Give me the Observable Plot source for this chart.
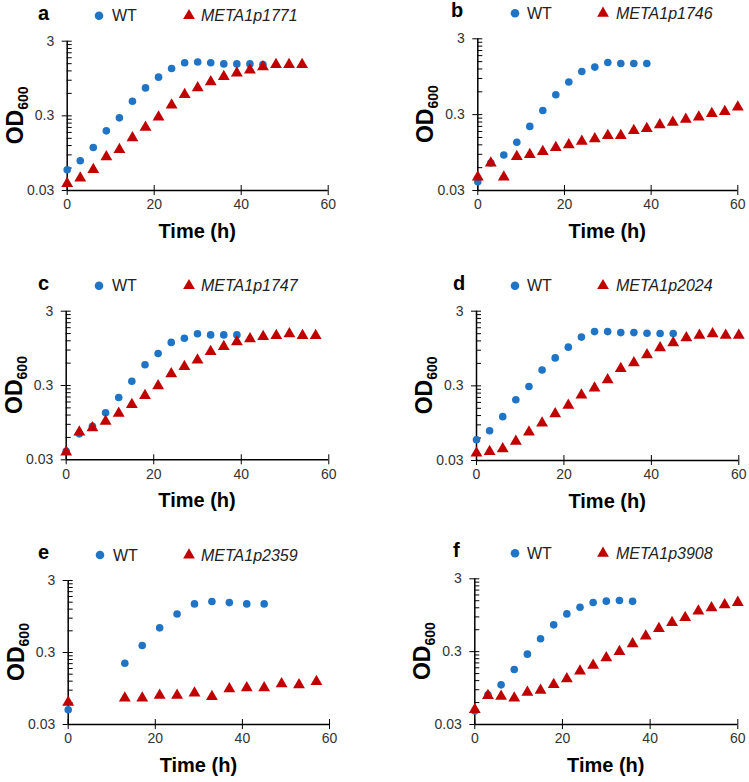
<!DOCTYPE html>
<html><head><meta charset="utf-8">
<script src="https://cdn.jsdelivr.net/npm/d3@7"></script>
<script src="https://cdn.jsdelivr.net/npm/@observablehq/plot@0.6"></script>
<style>
body{margin:0;background:#fff;}
#root{position:relative;width:749px;height:782px;overflow:hidden;}
.panel{position:absolute;}
</style></head><body><div id="root"></div>
<script>
// ---------- data ----------
const letters = ["a","b","c","d","e","f"];
const genes = ["META1p1771","META1p1746","META1p1747","META1p2024","META1p2359","META1p3908"];
const xTicks = [0, 20, 40, 60];
const yTicks = [0.03, 0.3, 3];
const yMinorTicks = [0.06,0.09,0.12,0.15,0.18,0.21,0.24,0.27,0.3,0.6,0.9,1.2,1.5,1.8,2.1,2.4,2.7,3];

const aWtT  = [0,3,6,9,12,15,18,21,24,27,30,33,36,39,42,45];
const aWtOD = [0.057,0.075,0.113,0.189,0.282,0.471,0.71,0.99,1.29,1.54,1.58,1.54,1.49,1.49,1.49,1.46];
const aMutT  = [0,3,6,9,12,15,18,21,24,27,30,33,36,39,42,45,48,51,54];
const aMutOD = [0.037,0.044,0.057,0.085,0.106,0.152,0.21,0.288,0.417,0.58,0.71,0.855,1.01,1.12,1.23,1.36,1.46,1.46,1.46];

const bWtT  = [0,3,6,9,12,15,18,21,24,27,30,33,36,39];
const bWtOD = [0.039,0.069,0.088,0.13,0.21,0.34,0.55,0.81,1.11,1.27,1.46,1.42,1.42,1.42];
const bMutT  = [0,3,6,9,12,15,18,21,24,27,30,33,36,39,42,45,48,51,54,57,60];
const bMutOD = [0.045,0.069,0.045,0.084,0.089,0.098,0.11,0.12,0.133,0.144,0.159,0.159,0.185,0.197,0.22,0.237,0.26,0.278,0.31,0.33,0.377];

const cWtT  = [0,3,6,9,12,15,18,21,24,27,30,33,36,39];
const cWtOD = [0.039,0.067,0.085,0.129,0.207,0.343,0.57,0.81,1.14,1.30,1.49,1.44,1.44,1.44];
const cMutT  = [0,3,6,9,12,15,18,21,24,27,30,33,36,39,42,45,48,51,54,57];
const cMutOD = [0.038,0.071,0.081,0.099,0.127,0.166,0.22,0.297,0.43,0.54,0.66,0.86,1.0,1.16,1.27,1.37,1.41,1.49,1.41,1.41];

const dWtT  = [0,3,6,9,12,15,18,21,24,27,30,33,36,39,42,45];
const dWtOD = [0.057,0.075,0.116,0.195,0.294,0.49,0.71,0.99,1.35,1.60,1.60,1.55,1.55,1.52,1.51,1.51];
const dMutT  = [0,3,6,9,12,15,18,21,24,27,30,33,36,39,42,45,48,51,54,57,60];
const dMutOD = [0.0376,0.0396,0.043,0.054,0.072,0.095,0.127,0.164,0.225,0.28,0.36,0.51,0.61,0.78,0.97,1.13,1.32,1.42,1.49,1.42,1.42];

const eWtT  = [0,13,17,21,25,29,33,37,41,45];
const eWtOD = [0.048,0.213,0.375,0.66,1.03,1.42,1.53,1.48,1.42,1.42];
const eMutT  = [0,13,17,21,25,29,33,37,41,45,49,53,57];
const eMutOD = [0.061,0.070,0.070,0.076,0.076,0.082,0.073,0.094,0.097,0.097,0.11,0.107,0.118];

const fWtT  = [0,3,6,9,12,15,18,21,24,27,30,33,36];
const fWtOD = [0.046,0.077,0.105,0.171,0.277,0.45,0.70,0.99,1.22,1.42,1.48,1.51,1.47];
const fMutT  = [0,3,6,9,12,15,18,21,24,27,30,33,36,39,42,45,48,51,54,57,60];
const fMutOD = [0.048,0.075,0.073,0.069,0.083,0.088,0.106,0.127,0.162,0.194,0.247,0.30,0.385,0.49,0.62,0.75,0.88,1.08,1.2,1.32,1.42];

const wtTimes = [aWtT,bWtT,cWtT,dWtT,eWtT,fWtT];
const wtODs   = [aWtOD,bWtOD,cWtOD,dWtOD,eWtOD,fWtOD];
const mutTimes = [aMutT,bMutT,cMutT,dMutT,eMutT,fMutT];
const mutODs   = [aMutOD,bMutOD,cMutOD,dMutOD,eMutOD,fMutOD];

// ---------- layout ----------
const layout = [
  {left:0,   top:0,   width:375, height:260, ml:66.7,  mr:47.3, mt:40.7, mb:70,   lg:{letter:38, dot:99,  wt:112, tri:189, gene:201}},
  {left:375, top:0,   width:374, height:260, ml:102.3, mr:11.7, mt:38.3, mb:70,   lg:{letter:76, dot:140, wt:152, tri:228, gene:241}},
  {left:0,   top:260, width:375, height:260, ml:65.7,  mr:46.7, mt:50.7, mb:60.7, lg:{letter:38, dot:99,  wt:112, tri:189, gene:201}},
  {left:375, top:260, width:374, height:260, ml:101,   mr:10.7, mt:50.7, mb:60,   lg:{letter:78, dot:140, wt:152, tri:228, gene:241}},
  {left:0,   top:520, width:375, height:262, ml:67.7,  mr:46,   mt:60,   mb:58,   lg:{letter:38, dot:100, wt:113, tri:189, gene:201}},
  {left:375, top:520, width:374, height:262, ml:99.3,  mr:11.7, mt:58.3, mb:58,   lg:{letter:78, dot:140, wt:152, tri:228, gene:241}}
];
const BLUE = "#1f74c6", RED = "#c00000", FONT = "'Liberation Sans', Arial, sans-serif";

const root = document.getElementById("root");
letters.forEach((letter, i) => {
  const L = layout[i];
  const wt = wtTimes[i].map((t, j) => ({t, od: wtODs[i][j]}));
  const mut = mutTimes[i].map((t, j) => ({t, od: mutODs[i][j]}));
  const plotW = L.width - L.ml - L.mr, plotH = L.height - L.mt - L.mb;
  const svg = Plot.plot({
    width: L.width, height: L.height,
    marginLeft: L.ml, marginRight: L.mr, marginTop: L.mt, marginBottom: L.mb,
    style: {fontFamily: FONT, fontSize: "14px", color: "#000", background: "transparent", overflow: "visible"},
    x: {domain: [0, 60]},
    y: {type: "log", domain: [0.03, 3]},
    marks: [
      Plot.axisX({ticks: xTicks, tickSize: 5, tickPadding: 4, label: null, tickFormat: d => String(d), fill: "#333", stroke: "#000"}),
      Plot.tickX(xTicks, {x: d => d, insetTop: plotH - 5, stroke: "#000"}),
      Plot.axisY({ticks: yTicks, tickSize: 5, tickPadding: 8, label: null, tickFormat: d => String(d), fill: "#333", stroke: "#000"}),
      Plot.tickY(yMinorTicks, {y: d => d, insetRight: plotW - 5, stroke: "#000"}),
      Plot.ruleX([0], {stroke: "#000", strokeWidth: 1.5}),
      Plot.ruleY([0.03], {stroke: "#000", strokeWidth: 1.5}),
      Plot.dot(wt, {x: "t", y: "od", r: 3.8, fill: BLUE}),
      Plot.dot(mut, {x: "t", y: "od", symbol: "triangle", r: 4.4, fill: RED})
    ]
  });
  const s = d3.select(svg);
  // y label OD600
  const yl = s.append("text")
    .attr("transform", `translate(${L.ml - 44},${L.mt + plotH / 2}) rotate(-90)`)
    .attr("text-anchor", "middle").attr("fill", "#000").attr("font-weight", "bold");
  yl.append("tspan").attr("font-size", 23).text("OD");
  yl.append("tspan").attr("font-size", 14).attr("dy", 5).text("600");
  // x label
  s.append("text").attr("x", L.ml + plotW / 2).attr("y", L.mt + plotH + 48)
    .attr("text-anchor", "middle").attr("font-size", 20).attr("font-weight", "bold")
    .attr("fill", "#000").text("Time (h)");
  // letter + legend
  const ly = L.mt - 25;
  s.append("text").attr("x", L.lg.letter).attr("y", ly + 4).attr("font-size", 20)
    .attr("text-anchor", "start").attr("font-weight", "bold").attr("fill", "#000").text(letter);
  s.append("circle").attr("cx", L.lg.dot).attr("cy", ly).attr("r", 4.3).attr("fill", BLUE);
  s.append("text").attr("x", L.lg.wt).attr("y", ly + 5.5).attr("font-size", 16)
    .attr("text-anchor", "start").attr("fill", "#222").text("WT");
  s.append("path").attr("transform", `translate(${L.lg.tri},${ly})`)
    .attr("d", d3.symbol(d3.symbolTriangle, 60)()).attr("fill", RED);
  s.append("text").attr("x", L.lg.gene).attr("y", ly + 5.5).attr("font-size", 16)
    .attr("text-anchor", "start").attr("font-style", "italic").attr("fill", "#222").text(genes[i]);
  const div = document.createElement("div");
  div.className = "panel";
  div.style.left = L.left + "px";
  div.style.top = L.top + "px";
  div.appendChild(svg);
  root.appendChild(div);
});
</script>
</body></html>
